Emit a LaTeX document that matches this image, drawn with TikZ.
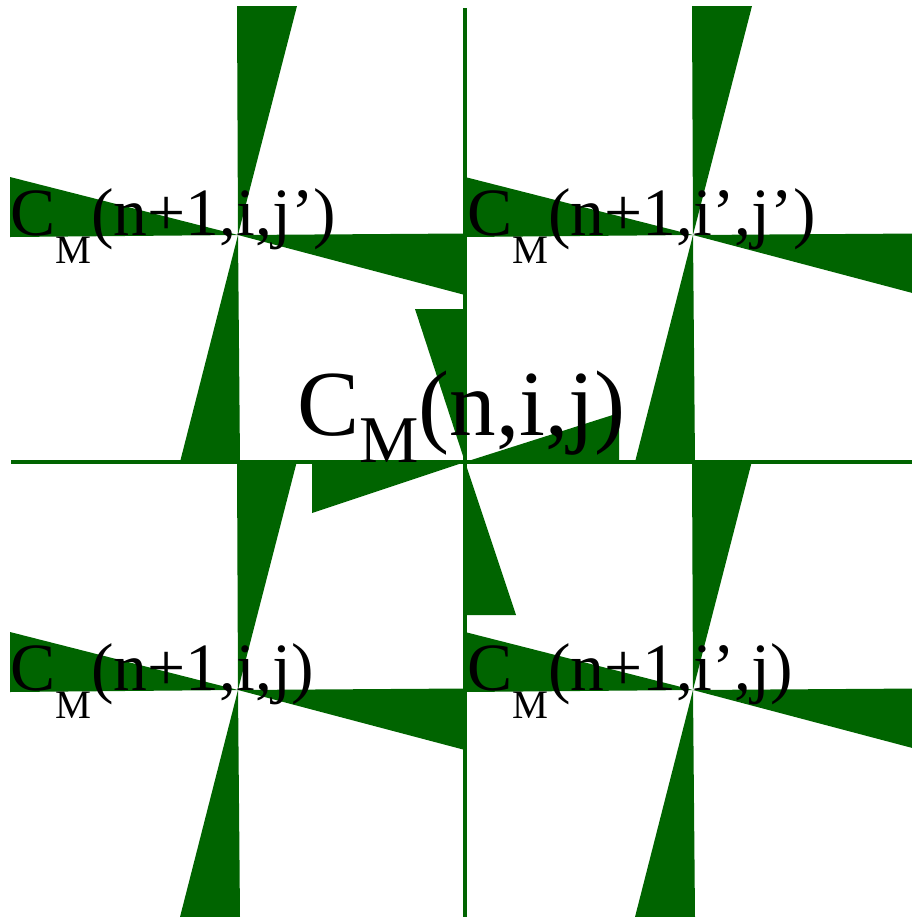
\documentclass[tikz,border=0pt]{standalone}
\usepackage{fontspec}
\setmainfont{Liberation Serif}
\usepackage{xcolor}
\usepackage{tikz}

\definecolor{leafgreen}{RGB}{0,100,0}

% label with lowered subscript M
\newcommand{\cmlab}[3]{C\raisebox{-#3}{\fontsize{#2}{#2}\selectfont M}(#1)}

\begin{document}
\begin{tikzpicture}[
  x=0.02cm, y=-0.02cm,
  blade/.style={fill=leafgreen, draw=none},
  axisline/.style={draw=leafgreen, line width=2.2pt},
  smalllab/.style={anchor=base west, inner sep=0pt, text=black,
                   font=\fontsize{38.5}{40}\selectfont},
  biglab/.style={anchor=base west, inner sep=0pt, text=black,
                 font=\fontsize{53}{56}\selectfont},
]
\useasboundingbox (0,0) rectangle (912,917);
\clip (0,0) rectangle (912,917);

%% ===== Axes through C_M(n,i,j) =====
\draw[axisline] (465,8) -- (465,917);
\draw[axisline] (11,462) -- (912,462);

%% ===== Small pinwheels (level n+1) =====
\foreach \cx/\cy in {238/235, 693/235, 238/690, 693/690}{
  \fill[blade] (\cx,\cy) -- (\cx-1,\cy-229) -- (\cx+59,\cy-229) -- cycle;
  \fill[blade] (\cx,\cy) -- (\cx+227,\cy-1.5) -- (\cx+227,\cy+60) -- cycle;
  \fill[blade] (\cx,\cy) -- (\cx+2,\cy+227) -- (\cx-58,\cy+227) -- cycle;
  \fill[blade] (\cx,\cy) -- (\cx-228,\cy+2) -- (\cx-228,\cy-58) -- cycle;
}

%% ===== Big pinwheel (level n) =====
\coordinate (c0) at (465,462);
\fill[blade] (c0) -- (465,309) -- (415,309) -- cycle;
\fill[blade] (c0) -- (619,462) -- (619,413) -- cycle;
\fill[blade] (c0) -- (465,615) -- (516,615) -- cycle;
\fill[blade] (c0) -- (312,462) -- (312,513) -- cycle;

%% ===== Labels =====
\node[smalllab] (l11) at (10,235)  {\cmlab{n+1,i,j’}{23}{16pt}};
\node[smalllab] (l21) at (467,235) {\cmlab{n+1,i’,j’}{23}{16pt}};
\node[smalllab] (l12) at (10,690)  {\cmlab{n+1,i,j}{23}{16pt}};
\node[smalllab] (l22) at (467,690) {\cmlab{n+1,i’,j}{23}{16pt}};
\node[biglab] (l0) at (297,435) {\cmlab{n,i,j}{38}{15.4pt}};

\end{tikzpicture}
\end{document}
